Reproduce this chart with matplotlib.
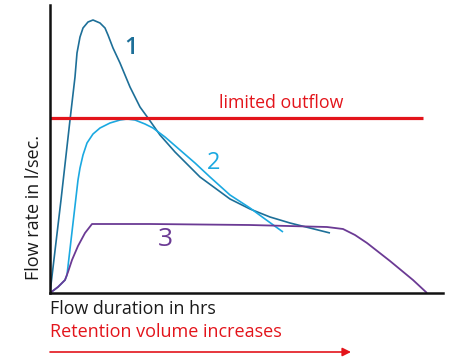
import matplotlib
matplotlib.use("Agg")
import matplotlib.pyplot as plt

plt.rcParams['font.family'] = ['Open Sans', 'DejaVu Sans']

# curve 1 - high peak, short duration
t1 = [0, 11, 20, 25, 27, 30, 33, 38, 43, 50, 55, 58, 63, 70, 80, 90, 98, 110, 125,
      140, 150, 165, 180, 200, 220, 240, 260, 280]
q1 = [0, 93, 173, 216, 240, 256, 265, 271, 273, 270, 265, 258, 245, 230, 206, 186,
      175, 158, 141, 126, 116, 105, 94, 84, 76, 70, 65, 60]

# curve 2 - moderate peak
t2 = [0, 8, 15, 17, 28, 30, 33, 37, 43, 50, 60, 70, 77, 85, 95, 103, 115, 130, 145,
      160, 180, 200, 215, 233]
q2 = [0, 6, 13, 18, 113, 125, 138, 150, 159, 165, 170, 173, 174, 173, 169, 165, 156,
      143, 130, 116, 98, 85, 74, 61]

# curve 3 - retained, flat outflow
t3 = [0, 8, 15, 18, 22, 28, 35, 42, 100, 200, 277, 293, 305, 317, 340, 363, 377]
q3 = [0, 6, 13, 21, 33, 47, 60, 69, 69, 68, 66, 64, 58, 50, 32, 13, 0]

limit = 175
limit_end = 373

c1 = '#1d6f98'
c2 = '#1ba9e1'
c3 = '#6b3a94'
red = '#e3141b'

fig = plt.figure(figsize=(4.56, 3.6), dpi=100)
ax = fig.add_axes([50 / 456, 67 / 360, 393 / 456, 288 / 360])

ax.plot(t1, q1, color=c1, lw=1.2, solid_capstyle='butt', solid_joinstyle='round')
ax.plot(t2, q2, color=c2, lw=1.2, solid_capstyle='butt', solid_joinstyle='round')
ax.plot(t3, q3, color=c3, lw=1.3, solid_capstyle='butt', solid_joinstyle='round')
ax.plot([0, limit_end], [limit, limit], color=red, lw=2.3, solid_capstyle='butt')

ax.text(81, 245, '1', color=c1, fontsize=17, fontweight='semibold', ha='center', va='center')
ax.text(164, 130, '2', color=c2, fontsize=17, ha='center', va='center')
ax.text(115, 54, '3', color=c3, fontsize=19, ha='center', va='center')
ax.text(231, 190, 'limited outflow', color=red, fontsize=12.8, ha='center', va='center')

ax.set_xlim(0, 393)
ax.set_ylim(0, 288)
ax.set_xticks([])
ax.set_yticks([])
for s in ['top', 'right']:
    ax.spines[s].set_visible(False)
for s in ['left', 'bottom']:
    ax.spines[s].set_linewidth(1.8)
    ax.spines[s].set_color('#111111')

fig.text(34 / 456, 1 - 207 / 360, 'Flow rate in l/sec.', rotation=90,
         ha='center', va='center', fontsize=13, color='#1a1a1a')
fig.text(50 / 456, 1 - 309 / 360, 'Flow duration in hrs', ha='left', va='center',
         fontsize=12.8, color='#1a1a1a')
fig.text(50 / 456, 1 - 332 / 360, 'Retention volume increases', ha='left', va='center',
         fontsize=13, color=red)
fig.add_artist(matplotlib.patches.FancyArrowPatch(
    (50 / 456, 1 - 352 / 360), (351 / 456, 1 - 352 / 360),
    transform=fig.transFigure, arrowstyle='-|>,head_length=5,head_width=2.5',
    color=red, lw=1.2, shrinkA=0, shrinkB=0))

fig.savefig('out.png', dpi=100)
